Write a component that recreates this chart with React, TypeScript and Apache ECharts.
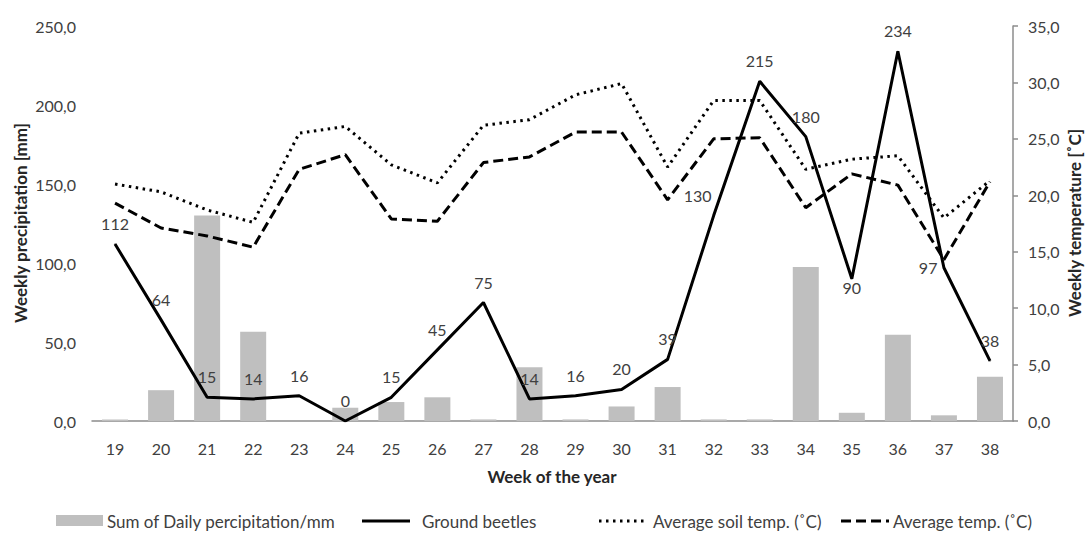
import React, { useEffect, useRef } from "react";
import * as echarts from "echarts";

const weeks = ["19", "20", "21", "22", "23", "24", "25", "26", "27", "28", "29", "30", "31", "32", "33", "34", "35", "36", "37", "38"];
const precipitation = [1, 19.5, 130, 56.5, 0, 8.4, 12, 15, 1, 34, 1, 9.2, 21.5, 1, 1, 97.5, 5.2, 54.6, 3.6, 28];
const beetles = [112, 64, 15, 14, 16, 0, 15, 45, 75, 14, 16, 20, 39, 130, 215, 180, 90, 234, 97, 38];
const soilTemp = [21.0, 20.3, 18.7, 17.6, 25.5, 26.1, 22.7, 21.1, 26.2, 26.7, 28.9, 29.9, 22.5, 28.4, 28.4, 22.3, 23.2, 23.5, 18.0, 21.3];
const airTemp = [19.3, 17.1, 16.4, 15.4, 22.3, 23.6, 17.9, 17.7, 22.9, 23.4, 25.6, 25.6, 19.6, 25.0, 25.1, 18.9, 21.9, 20.9, 14.3, 21.2];

const seriesNames = ["Sum of Daily percipitation/mm", "Ground beetles", "Average soil temp. (˚C)", "Average temp. (˚C)"];

const FONT = "Lato, 'Open Sans', sans-serif";
const TXT = "#404040";
const AXIS = "#8c8c8c";
const DOT = [2.5, 4.5];
const DASH = [10, 5];

const fmt = (v: number) => v.toFixed(1).replace(".", ",");

export default function App() {
  const ref = useRef<HTMLDivElement>(null);
  useEffect(() => {
    if (!ref.current) return;
    const chart = echarts.init(ref.current, null, { renderer: "svg" });

    const beetleData = beetles.map((v, i) => {
      const w = weeks[i];
      if (w === "32") return { value: v, label: { position: "top", offset: [-16, 0] } };
      if (w === "35") return { value: v, label: { position: "bottom", distance: 0 } };
      if (w === "37") return { value: v, label: { position: "left", distance: 6 } };
      return { value: v };
    });

    const LY = 521;
    const legendText = (x: number, text: string) => ({
      type: "text",
      x,
      y: LY,
      style: { text, fontFamily: FONT, fontSize: 17, fill: TXT, align: "left", verticalAlign: "middle" },
    });
    const legendLine = (x1: number, x2: number, dash: number[] | null) => ({
      type: "line",
      shape: { x1, y1: LY, x2, y2: LY },
      style: { stroke: "#000", lineWidth: 3, lineDash: dash || undefined },
    });

    const axisTitle = (x: number, y: number, text: string, rot: number) => ({
      type: "text",
      x,
      y,
      rotation: rot,
      style: {
        text,
        fontFamily: FONT,
        fontSize: 17,
        fontWeight: "bold",
        fill: "#262626",
        align: "center",
        verticalAlign: "middle",
      },
    });

    chart.setOption({
      animation: false,
      textStyle: { fontFamily: FONT },
      grid: { left: 92, right: 75, top: 26, bottom: 121, containLabel: false },
      xAxis: {
        type: "category",
        data: weeks,
        axisLine: { show: true, lineStyle: { color: AXIS, width: 1.5 } },
        axisTick: { show: false },
        axisLabel: { fontFamily: FONT, fontSize: 16, color: TXT, margin: 19 },
      },
      yAxis: [
        {
          type: "value",
          min: 0,
          max: 250,
          interval: 50,
          axisLine: { show: false },
          axisTick: { show: false },
          splitLine: { show: false },
          axisLabel: { fontFamily: FONT, fontSize: 16, color: TXT, margin: 16, formatter: (v: number) => fmt(v) },
        },
        {
          type: "value",
          min: 0,
          max: 35,
          interval: 5,
          position: "right",
          axisLine: { show: true, lineStyle: { color: AXIS, width: 1.5 } },
          axisTick: { show: true, length: 5, lineStyle: { color: AXIS, width: 1.5 } },
          splitLine: { show: false },
          axisLabel: { fontFamily: FONT, fontSize: 16, color: TXT, margin: 15, formatter: (v: number) => fmt(v) },
        },
      ],
      graphic: [
        axisTitle(20, 223, "Weekly precipitation [mm]", Math.PI / 2),
        axisTitle(1074, 223, "Weekly temperature [˚C]", Math.PI / 2),
        axisTitle(552, 476, "Week of the year", 0),
        { type: "rect", shape: { x: 56, y: LY - 6, width: 47, height: 11 }, style: { fill: "#bfbfbf" } },
        legendText(107, seriesNames[0]),
        legendLine(362, 410, null),
        legendText(422, seriesNames[1]),
        legendLine(599, 646, DOT),
        legendText(653, seriesNames[2]),
        legendLine(841, 889, DASH),
        legendText(893, seriesNames[3]),
      ],
      series: [
        {
          name: seriesNames[0],
          type: "bar",
          yAxisIndex: 0,
          data: precipitation,
          barWidth: 26,
          itemStyle: { color: "#bfbfbf" },
          z: 1,
        },
        {
          name: seriesNames[1],
          type: "line",
          yAxisIndex: 0,
          data: beetleData,
          symbol: "circle",
          symbolSize: 1,
          showSymbol: true,
          lineStyle: { color: "#000", width: 3 },
          itemStyle: { color: "#000" },
          label: {
            show: true,
            position: "top",
            distance: 12,
            fontFamily: FONT,
            fontSize: 16,
            color: TXT,
          },
          z: 4,
        },
        {
          name: seriesNames[2],
          type: "line",
          yAxisIndex: 1,
          data: soilTemp,
          symbol: "none",
          lineStyle: { color: "#000", width: 3, type: DOT },
          itemStyle: { color: "#000" },
          z: 3,
        },
        {
          name: seriesNames[3],
          type: "line",
          yAxisIndex: 1,
          data: airTemp,
          symbol: "none",
          lineStyle: { color: "#000", width: 3, type: DASH },
          itemStyle: { color: "#000" },
          z: 3,
        },
      ],
    });
    return () => chart.dispose();
  }, []);
  return (
    <div
      ref={ref}
      style={{ position: "absolute", left: 0, top: 0, width: 1088, height: 542, background: "#fff" }}
    />
  );
}
